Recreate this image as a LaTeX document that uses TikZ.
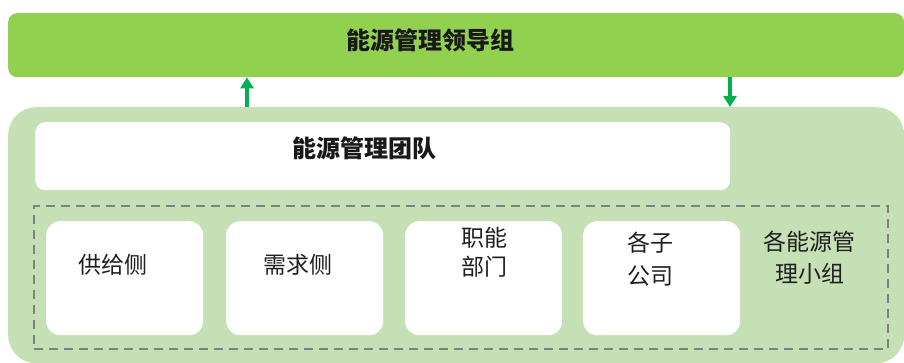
\documentclass[tikz,border=0pt]{standalone}
\usepackage{fontspec}
\newfontfamily\cjk{Noto Sans CJK SC}
\usetikzlibrary{arrows.meta}
\definecolor{bargreen}{HTML}{92D050}
\definecolor{paleg}{HTML}{C5E0B4}
\definecolor{arrowg}{HTML}{00B050}
\definecolor{dashgray}{HTML}{808080}
\tikzset{
  wbox/.style={draw=none, fill=white, rounded corners=14pt, inner sep=0pt},
  lbl/.style={font=\cjk\fontsize{23}{27}\selectfont, text=black!88, inner sep=0pt, align=left},
  hdr/.style={font=\cjk\bfseries\fontsize{24}{28}\selectfont, text=black!90, inner sep=0pt},
  flow/.style={draw=arrowg, line width=4pt, -{Triangle[length=11pt,width=13pt]}}
}
\begin{document}
\begin{tikzpicture}[x=1pt,y=-1pt]
\useasboundingbox (0,0) rectangle (904,363);
\fill[white] (0,0) rectangle (904,363);
% top bar
\node[fill=bargreen, rounded corners=9pt, minimum width=896pt, minimum height=64pt, inner sep=0pt, anchor=north west] (lead) at (8,13) {};
\node[hdr] (leadtxt) at (430,40) {能源管理领导组};
% container
\node[fill=paleg, rounded corners=28pt, minimum width=896pt, minimum height=256pt, inner sep=0pt, anchor=north west] (cont) at (8,107) {};
% team box
\node[wbox, rounded corners=10pt, minimum width=695pt, minimum height=68pt, anchor=north west] (team) at (35,122) {};
\node[hdr] (teamtxt) at (364,148) {能源管理团队};
% arrows
\coordinate (upx) at (247,0);
\coordinate (dnx) at (730,0);
\draw[flow] (cont.north -| upx) -- (lead.south -| upx);
\draw[flow] (lead.south -| dnx) -- (cont.north -| dnx);
% dashed frame
\node[draw=dashgray, line width=2pt, dash pattern=on 9pt off 6pt, minimum width=854pt, minimum height=143pt, inner sep=0pt, anchor=north west] (frame) at (33,205) {};
% boxes
\node[wbox, minimum width=157pt, minimum height=114pt, anchor=north west] (b1) at (46,221) {};
\node[wbox, minimum width=157pt, minimum height=114pt, anchor=north west] (b2) at (226,221) {};
\node[wbox, minimum width=157pt, minimum height=114pt, anchor=north west] (b3) at (405,221) {};
\node[wbox, minimum width=157pt, minimum height=114pt, anchor=north west] (b4) at (583,221) {};
% labels
\node[lbl] (t1) at (113,265) {供给侧};
\node[lbl] (t2) at (298,265) {需求侧};
\node[lbl, anchor=west] (t3a) at (461,238) {职能};
\node[lbl, anchor=west] (t3b) at (461,267) {部门};
\node[lbl, anchor=west] (t4a) at (627,243) {各子};
\node[lbl, anchor=west] (t4b) at (627,276) {公司};
\node[lbl, anchor=west] (t5a) at (763,242) {各能源管};
\node[lbl, anchor=west] (t5b) at (775,274) {理小组};
\end{tikzpicture}
\end{document}
